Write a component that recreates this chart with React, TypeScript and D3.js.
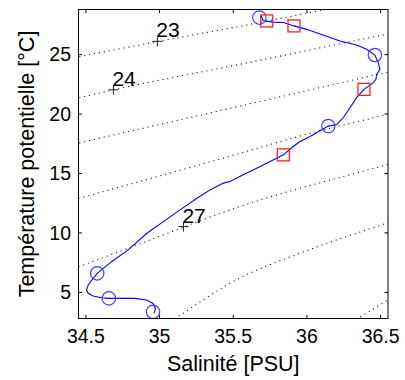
import React from "react";
import * as d3 from "d3";

// ---- Data ----
// T-S profile (surface -> bottom)
const salinity = [
  35.689, 35.702, 35.77, 35.84, 35.912, 35.998, 36.109, 36.224, 36.337, 36.405,
  36.461, 36.484, 36.495, 36.473, 36.468, 36.45, 36.387, 36.337, 36.292, 36.246,
  36.202, 36.145, 36.1, 36.021, 35.953, 35.907, 35.84, 35.75, 35.659, 35.568,
  35.478, 35.433, 35.343, 35.253, 35.139, 35.026, 34.914, 34.787, 34.674, 34.577,
  34.549, 34.516, 34.504, 34.516, 34.549, 34.606, 34.656, 34.741, 34.832, 34.911,
  34.956, 34.972, 34.963,
];
const temperature = [
  28.29, 27.87, 27.74, 27.7, 27.42, 27.13, 26.66, 26.15, 25.82, 25.45,
  24.97, 24.33, 23.76, 23.34, 22.92, 22.64, 22.08, 21.38, 20.53, 19.69,
  19.13, 18.99, 18.68, 18.11, 17.69, 17.27, 16.57, 16.01, 15.45, 14.89,
  14.32, 14.19, 13.62, 12.92, 11.94, 10.95, 9.97, 8.57, 7.58, 6.6,
  6.18, 5.62, 5.19, 4.92, 4.69, 4.54, 4.49, 4.49, 4.49, 4.35,
  4.07, 3.65, 3.23,
];

// circle markers
const circleS = [35.677, 36.461, 36.145, 34.577, 34.656, 34.956];
const circleT = [28.12, 24.97, 18.99, 6.6, 4.49, 3.36];

// square markers
const squareS = [35.727, 35.912, 36.387, 35.84];
const squareT = [27.84, 27.42, 22.08, 16.57];

// isopycnals (sigma-theta), points
const sigmaLevels = [23, 24, 25, 26, 27, 28, 29];
const iso23S = [34.455, 34.983, 35.533, 36.224];
const iso23T = [24.83, 26.1, 27.36, 29.05];
const iso24S = [34.455, 34.692, 35.533, 36.529, 36.6];
const iso24T = [21.38, 22.05, 24.16, 26.69, 26.87];
const iso25S = [34.455, 35.533, 36.529, 36.6];
const iso25T = [17.58, 20.64, 23.48, 23.68];
const iso26S = [34.45, 35.546, 35.953, 36.541, 36.6];
const iso26T = [12.9, 16.7, 18.15, 19.97, 20.16];
const iso27S = [34.45, 34.936, 35.478, 36.541, 36.6];
const iso27T = [7.15, 9.41, 11.94, 15.73, 15.93];
const iso28S = [35.072, 35.139, 35.478, 36.043, 36.541, 36.6];
const iso28T = [2.56, 3.09, 5.76, 8.71, 10.82, 11.07];
const iso29S = [36.333, 36.382, 36.529, 36.6];
const iso29T = [2.71, 3.09, 4.21, 4.75];

// contour labels
const labelValues = [23, 24, 27];
const labelS = [34.985, 34.687, 35.162];
const labelT = [26.12, 22.05, 10.53];

const xTicks = [34.5, 35, 35.5, 36, 36.5];
const yTicks = [5, 10, 15, 20, 25];
const xDomain = [34.45, 36.55];
const yDomain = [2.8, 28.8];

const xLabel = "Salinité [PSU]";
const yLabel = "Température potentielle [°C]";

const FONT = "'Liberation Sans', Arial, Helvetica, sans-serif";

export default function App() {
  const W = 405;
  const H = 380;
  const left = 78.5;
  const right = 388;
  const top = 9.5;
  const bottom = 318.5;

  const x = d3.scaleLinear().domain(xDomain).range([left, right]);
  const y = d3.scaleLinear().domain(yDomain).range([bottom, top]);

  const isoS = [iso23S, iso24S, iso25S, iso26S, iso27S, iso28S, iso29S];
  const isoT = [iso23T, iso24T, iso25T, iso26T, iso27T, iso28T, iso29T];

  const isoLine = d3
    .line<[number, number]>()
    .x((d) => x(d[0]))
    .y((d) => y(d[1]))
    .curve(d3.curveMonotoneX);

  const profileLine = d3
    .line<[number, number]>()
    .x((d) => x(d[0]))
    .y((d) => y(d[1]))
    .curve(d3.curveLinear);

  const profile = salinity.map((s, i) => [s, temperature[i]] as [number, number]);
  const tickLen = 3.5;
  const sq = 6;

  return (
    <div style={{ position: "absolute", left: 0, top: 0 }}>
      <svg width={W} height={H} style={{ display: "block", background: "#fff" }}>
        <defs>
          <clipPath id="plotClip">
            <rect x={left} y={top} width={right - left} height={bottom - top} />
          </clipPath>
        </defs>
        <rect x={0} y={0} width={W} height={H} fill="#fff" />

        <g clipPath="url(#plotClip)">
          {sigmaLevels.map((lvl, k) => (
            <path
              key={lvl}
              d={isoLine(isoS[k].map((s, i) => [s, isoT[k][i]] as [number, number])) || ""}
              fill="none"
              stroke="#1a1a1a"
              strokeWidth={1.1}
              strokeDasharray="1.1 3.9"
            />
          ))}
          <path d={profileLine(profile) || ""} fill="none" stroke="#0000ff" strokeWidth={1.1} />
          {circleS.map((s, i) => (
            <circle
              key={"c" + i}
              cx={x(s)}
              cy={y(circleT[i])}
              r={6.7}
              fill="none"
              stroke="#3d3dff"
              strokeWidth={1.2}
            />
          ))}
          {squareS.map((s, i) => (
            <rect
              key={"s" + i}
              x={x(s) - sq}
              y={y(squareT[i]) - sq}
              width={sq * 2}
              height={sq * 2}
              fill="none"
              stroke="#ff1f1f"
              strokeWidth={1.3}
            />
          ))}
          {labelValues.map((v, i) => {
            const px = x(labelS[i]);
            const py = y(labelT[i]);
            return (
              <g key={"l" + v}>
                <line x1={px - 5} x2={px + 5} y1={py} y2={py} stroke="#222" strokeWidth={1} />
                <line x1={px} x2={px} y1={py - 5} y2={py + 5} stroke="#222" strokeWidth={1} />
                <text
                  x={px - 1}
                  y={py - 4}
                  fontFamily={FONT}
                  fontSize={21}
                  fill="#000"
                >
                  {v}
                </text>
              </g>
            );
          })}
        </g>

        {/* box */}
        <rect
          x={left}
          y={top}
          width={right - left}
          height={bottom - top}
          fill="none"
          stroke="#000"
          strokeWidth={1}
        />

        {/* ticks */}
        {xTicks.map((t) => (
          <g key={"xt" + t}>
            <line x1={x(t)} x2={x(t)} y1={bottom} y2={bottom - tickLen} stroke="#000" />
            <line x1={x(t)} x2={x(t)} y1={top} y2={top + tickLen} stroke="#000" />
            <text
              x={x(t)}
              y={343}
              textAnchor="middle"
              fontFamily={FONT}
              fontSize={19.5}
              fill="#000"
            >
              {String(t)}
            </text>
          </g>
        ))}
        {yTicks.map((t) => (
          <g key={"yt" + t}>
            <line x1={left} x2={left + tickLen} y1={y(t)} y2={y(t)} stroke="#000" />
            <line x1={right} x2={right - tickLen} y1={y(t)} y2={y(t)} stroke="#000" />
            <text
              x={71}
              y={y(t)}
              dy="0.35em"
              textAnchor="end"
              fontFamily={FONT}
              fontSize={19.5}
              fill="#000"
            >
              {String(t)}
            </text>
          </g>
        ))}

        {/* axis labels */}
        <text
          x={(left + right) / 2}
          y={370.5}
          textAnchor="middle"
          fontFamily={FONT}
          fontSize={21.5}
          fill="#000"
        >
          {xLabel}
        </text>
        <text
          transform={`translate(34, ${(top + bottom) / 2}) rotate(-90)`}
          textAnchor="middle"
          fontFamily={FONT}
          fontSize={21.5}
          fill="#000"
        >
          {yLabel}
        </text>
      </svg>
    </div>
  );
}
